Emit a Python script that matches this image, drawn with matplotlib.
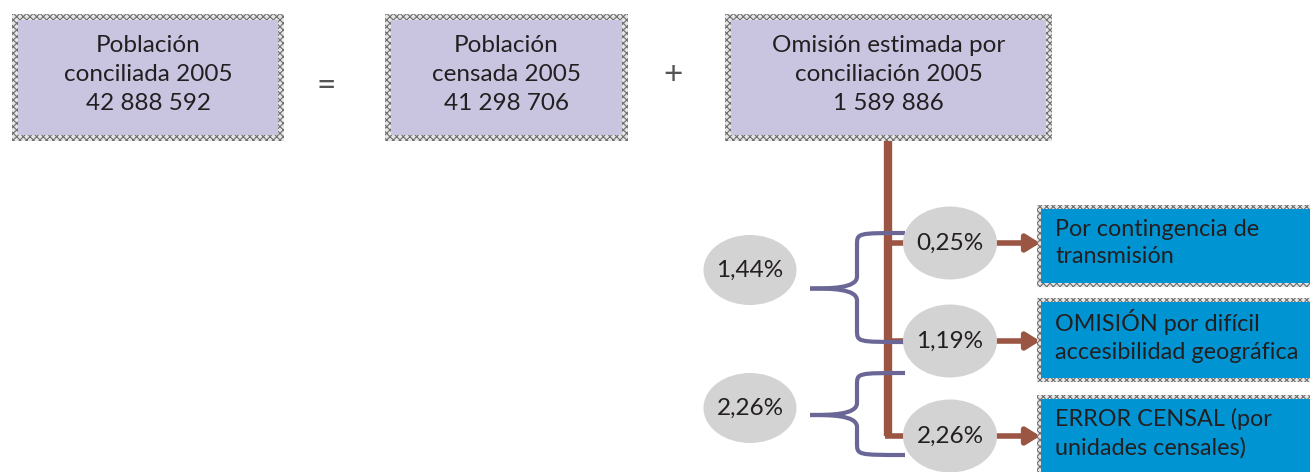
import matplotlib.pyplot as plt
from matplotlib.patches import Rectangle, Ellipse, FancyArrowPatch
from matplotlib.path import Path
from matplotlib.patches import PathPatch

plt.rcParams['font.family'] = ['Lato', 'DejaVu Sans']
plt.rcParams['hatch.linewidth'] = 0.8

# ---- content ----
top_labels = [
    'Población\nconciliada 2005\n42 888 592',
    'Población\ncensada 2005\n41 298 706',
    'Omisión estimada por\nconciliación 2005\n1 589 886',
]
operators = ['=', '+']
branch_pcts = ['0,25%', '1,19%', '2,26%']
group_pcts = ['1,44%', '2,26%']
branch_labels = [
    'Por contingencia de\ntransmisión',
    'OMISIÓN por difícil\naccesibilidad geográfica',
    'ERROR CENSAL (por\nunidades censales)',
]

# ---- layout (pixel coordinates) ----
top_boxes = [(12, 14, 272, 127), (385, 14, 243, 127), (725, 14, 327, 127)]
op_pos = [(326, 86), (673, 75)]
branch_y = [243, 341, 436]
blue_boxes = [(1037, 205, 290, 82), (1037, 298, 290, 84), (1037, 395, 290, 90)]
group_y = [270, 408]
brace_spans = [(233, 342), (373, 455)]

LAV = '#c9c5e1'
BLUE = '#0094d3'
BROWN = '#9b5543'
PURPLE = '#6a6797'
GRAY = '#d3d3d3'
TXT = '#231f20'

fig = plt.figure(figsize=(13.1, 4.72), dpi=100)
ax = fig.add_axes([0, 0, 1, 1])
ax.set_xlim(0, 1310)
ax.set_ylim(472, 0)
ax.axis('off')


def framed_box(x, y, w, h, fill, b=5):
    ax.add_patch(Rectangle((x, y), w, h, facecolor='#e6e6e6', edgecolor='#6e6e6e',
                           hatch='xxxxx', lw=0, zorder=2))
    ax.add_patch(Rectangle((x + b, y + b), w - 2 * b, h - 2 * b, facecolor=fill,
                           edgecolor='none', zorder=3))


for (x, y, w, h), lab in zip(top_boxes, top_labels):
    framed_box(x, y, w, h, LAV, b=6)
    ax.text(x + w / 2, y + h / 2 - 3, lab, ha='center', va='center', fontsize=17.5,
            color=TXT, linespacing=1.45, zorder=4)

for (x, y), op in zip(op_pos, operators):
    ax.text(x, y, op, ha='center', va='center', fontsize=24, color='#555555', zorder=4)

# trunk from omission box
trunk_x = 888
ax.plot([trunk_x, trunk_x], [141, branch_y[-1]], color=BROWN, lw=6,
        solid_capstyle='butt', zorder=1)
for by in branch_y:
    ax.plot([trunk_x - 3, 915], [by, by], color=BROWN, lw=4, solid_capstyle='butt', zorder=1)

# braces
for (y0, y1), gy in zip(brace_spans, group_y):
    tip = (810, (y0 + y1) / 2 + 1)
    bx = 857
    r = 12
    verts = [(905, y0), (bx, y0), (bx, y0), (bx, y0 + r),
             (bx, tip[1] - r), (bx, tip[1]), (tip[0] + 20, tip[1]), (tip[0], tip[1])]
    codes = [Path.MOVETO, Path.CURVE4, Path.CURVE4, Path.CURVE4,
             Path.LINETO, Path.CURVE4, Path.CURVE4, Path.CURVE4]
    ax.add_patch(PathPatch(Path(verts, codes), fill=False, edgecolor=PURPLE, lw=3, zorder=2))
    verts2 = [(tip[0], tip[1]), (tip[0] + 20, tip[1]), (bx, tip[1]), (bx, tip[1] + r),
              (bx, y1 - r), (bx, y1), (bx, y1), (905, y1)]
    ax.add_patch(PathPatch(Path(verts2, codes), fill=False, edgecolor=PURPLE, lw=3, zorder=2))

# ellipses
for by, p in zip(branch_y, branch_pcts):
    ax.add_patch(Ellipse((950, by), 94, 73, facecolor=GRAY, edgecolor='none', zorder=3))
    ax.text(950, by, p, ha='center', va='center', fontsize=17.5, color=TXT, zorder=4)
for gy, p in zip(group_y, group_pcts):
    ax.add_patch(Ellipse((750, gy), 93, 70, facecolor=GRAY, edgecolor='none', zorder=3))
    ax.text(750, gy, p, ha='center', va='center', fontsize=17.5, color=TXT, zorder=4)

# arrows to blue boxes
for by in branch_y:
    ax.add_patch(FancyArrowPatch((997, by), (1040, by), arrowstyle='-|>,head_length=8,head_width=5',
                                 color=BROWN, lw=4, shrinkA=0, shrinkB=0, zorder=2))

# blue boxes
for (x, y, w, h), lab in zip(blue_boxes, branch_labels):
    framed_box(x, y, w, h, BLUE, b=4)
    ax.text(x + 18, y + 38, lab, ha='left', va='center', fontsize=16.8, color=TXT,
            linespacing=1.38, zorder=4)

fig.savefig('out.png', dpi=100)
